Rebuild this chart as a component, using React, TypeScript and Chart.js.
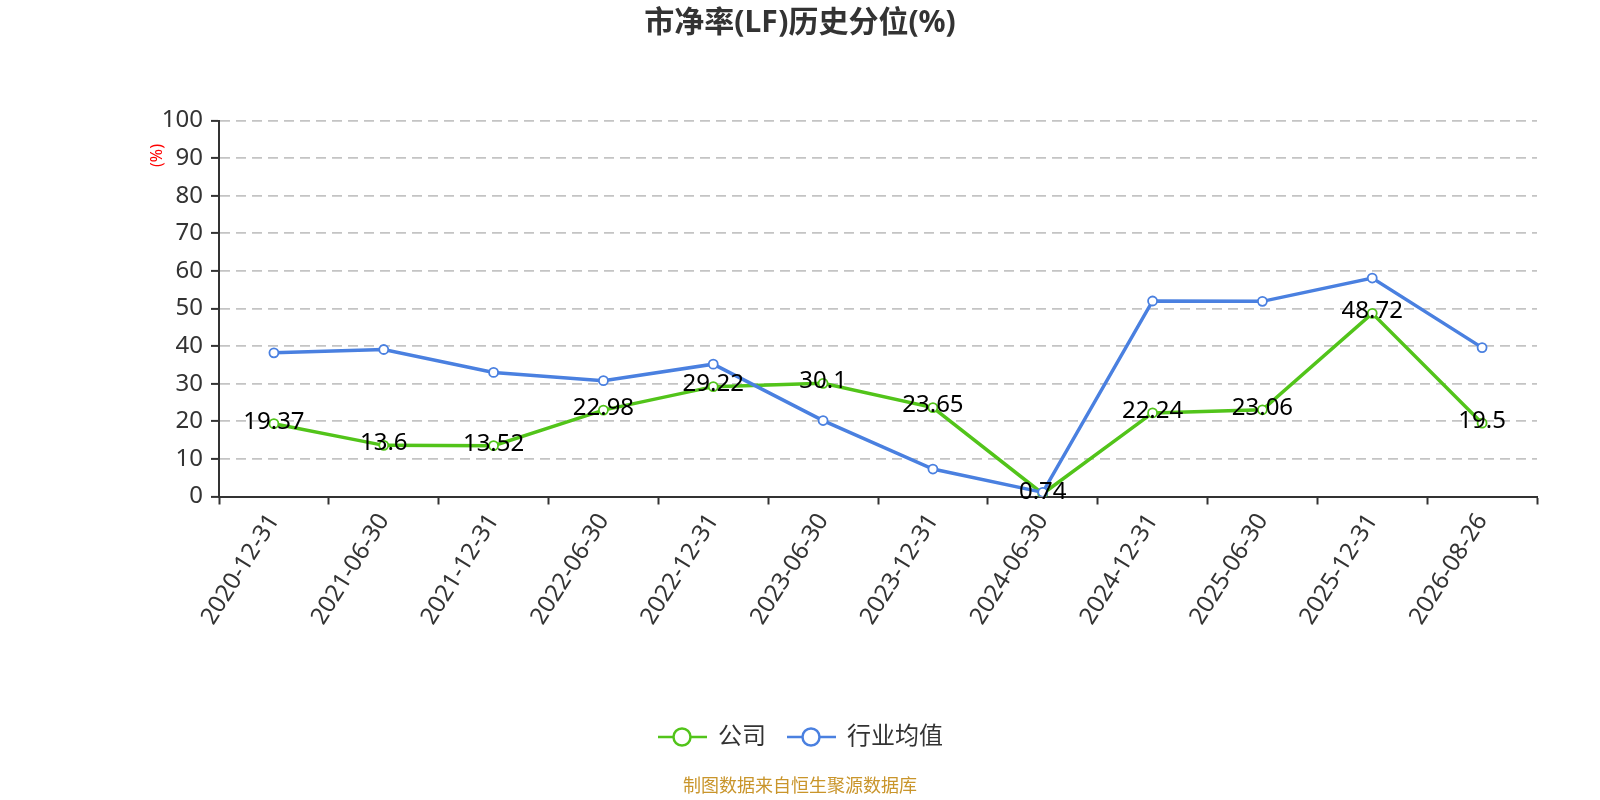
import React, { useEffect, useRef } from "react";
import { Chart, registerables } from "chart.js";

Chart.register(...registerables);

const TITLE = "市净率(LF)历史分位(%)";
const Y_UNIT = "(%)";
const FOOTER = "制图数据来自恒生聚源数据库";
const categories = [
  "2020-12-31", "2021-06-30", "2021-12-31", "2022-06-30", "2022-12-31", "2023-06-30",
  "2023-12-31", "2024-06-30", "2024-12-31", "2025-06-30", "2025-12-31", "2026-08-26",
];
const companySeries = [19.37, 13.6, 13.52, 22.98, 29.22, 30.1, 23.65, 0.74, 22.24, 23.06, 48.72, 19.5];
const industrySeries = [38.2, 39.1, 33.0, 30.8, 35.2, 20.2, 7.3, 1.1, 52.0, 51.9, 58.1, 39.6];
const seriesNames = ["公司", "行业均值"];
const yTicks = { min: 0, max: 100, step: 10 };

const GREEN = "#52c41a";
const BLUE = "#4a80e0";
const FONT = '"Noto Sans", "Noto Sans CJK SC", sans-serif';

const decorPlugin = {
  id: "decor",
  afterDatasetsDraw(chart: any) {
    const ctx = chart.ctx;
    const meta = chart.getDatasetMeta(0);
    ctx.save();
    ctx.font = `24px ${FONT}`;
    ctx.fillStyle = "#000";
    ctx.textAlign = "center";
    ctx.textBaseline = "middle";
    meta.data.forEach((pt: any, i: number) => {
      ctx.fillText(String(companySeries[i]), pt.x, pt.y - 2);
    });
    ctx.restore();
  },
  afterDraw(chart: any) {
    const ctx = chart.ctx;
    const area = chart.chartArea;
    ctx.save();
    // title
    ctx.font = `bold 30px ${FONT}`;
    ctx.fillStyle = "#333";
    ctx.textAlign = "center";
    ctx.textBaseline = "middle";
    ctx.fillText(TITLE, 800, 23);
    // y unit
    ctx.save();
    ctx.translate(area.left - 62, area.top + 35);
    ctx.rotate(-Math.PI / 2);
    ctx.font = `16px ${FONT}`;
    ctx.fillStyle = "red";
    ctx.fillText(Y_UNIT, 0, 0);
    ctx.restore();
    // legend
    const items = [
      { name: seriesNames[0], color: GREEN, x0: 658 },
      { name: seriesNames[1], color: BLUE, x0: 787 },
    ];
    const ly = 737;
    items.forEach((it) => {
      ctx.strokeStyle = it.color;
      ctx.lineWidth = 2.5;
      ctx.beginPath();
      ctx.moveTo(it.x0, ly);
      ctx.lineTo(it.x0 + 49, ly);
      ctx.stroke();
      ctx.beginPath();
      ctx.arc(it.x0 + 24, ly, 8.5, 0, Math.PI * 2);
      ctx.fillStyle = "#fff";
      ctx.fill();
      ctx.lineWidth = 2.5;
      ctx.stroke();
      ctx.font = `24px ${FONT}`;
      ctx.fillStyle = "#333";
      ctx.textAlign = "left";
      ctx.fillText(it.name, it.x0 + 60, ly);
    });
    // footer
    ctx.font = `18px ${FONT}`;
    ctx.fillStyle = "#c9952b";
    ctx.textAlign = "center";
    ctx.fillText(FOOTER, 800, 787);
    ctx.restore();
  },
};

export default function App() {
  const ref = useRef<HTMLCanvasElement>(null);
  useEffect(() => {
    const chart = new Chart(ref.current as HTMLCanvasElement, {
      type: "line",
      data: {
        labels: categories,
        datasets: [
          {
            label: seriesNames[0],
            data: companySeries,
            borderColor: GREEN,
            backgroundColor: "#fff",
            borderWidth: 3.5,
            pointRadius: 4.5,
            pointBorderWidth: 1.8,
            pointBackgroundColor: "#fff",
            pointBorderColor: GREEN,
            tension: 0,
            order: 1,
          },
          {
            label: seriesNames[1],
            data: industrySeries,
            borderColor: BLUE,
            backgroundColor: "#fff",
            borderWidth: 3.5,
            pointRadius: 4.5,
            pointBorderWidth: 1.8,
            pointBackgroundColor: "#fff",
            pointBorderColor: BLUE,
            tension: 0,
            order: 0,
          },
        ],
      },
      options: {
        animation: false,
        responsive: false,
        devicePixelRatio: 1,
        layout: { padding: { top: 120.5, right: 63, left: 0, bottom: 0 } },
        plugins: {
          legend: { display: false },
          title: { display: false },
          tooltip: { enabled: false },
        },
        scales: {
          x: {
            offset: true,
            afterFit: (s: any) => { s.height = 303.5; },
            grid: {
              offset: true,
              drawOnChartArea: false,
              drawTicks: true,
              tickLength: 8,
              tickColor: "#333",
              tickWidth: 2,
            },
            border: { display: true, color: "#333", width: 2 },
            ticks: {
              autoSkip: false,
              maxRotation: 58,
              minRotation: 58,
              color: "#333",
              padding: 4,
              font: { size: 24, family: FONT },
            },
          },
          y: {
            min: yTicks.min,
            max: yTicks.max,
            afterFit: (s: any) => { s.width = 219; },
            grid: {
              color: "#c4c4c4",
              lineWidth: 1.8,
              drawTicks: true,
              tickLength: 8,
              tickColor: "#333",
              tickWidth: 2,
              tickBorderDash: [],
            } as any,
            border: { display: true, color: "#333", width: 2, dash: [10, 6] } as any,
            ticks: {
              stepSize: yTicks.step,
              color: "#333",
              padding: 8,
              font: { size: 24, family: FONT },
            },
          },
        },
      },
      plugins: [decorPlugin],
    });
    return () => chart.destroy();
  }, []);
  return (
    <div style={{ position: "fixed", left: 0, top: 0, width: 1600, height: 800, background: "#fff" }}>
      <canvas ref={ref} width={1600} height={800} style={{ width: 1600, height: 800 }} />
    </div>
  );
}
